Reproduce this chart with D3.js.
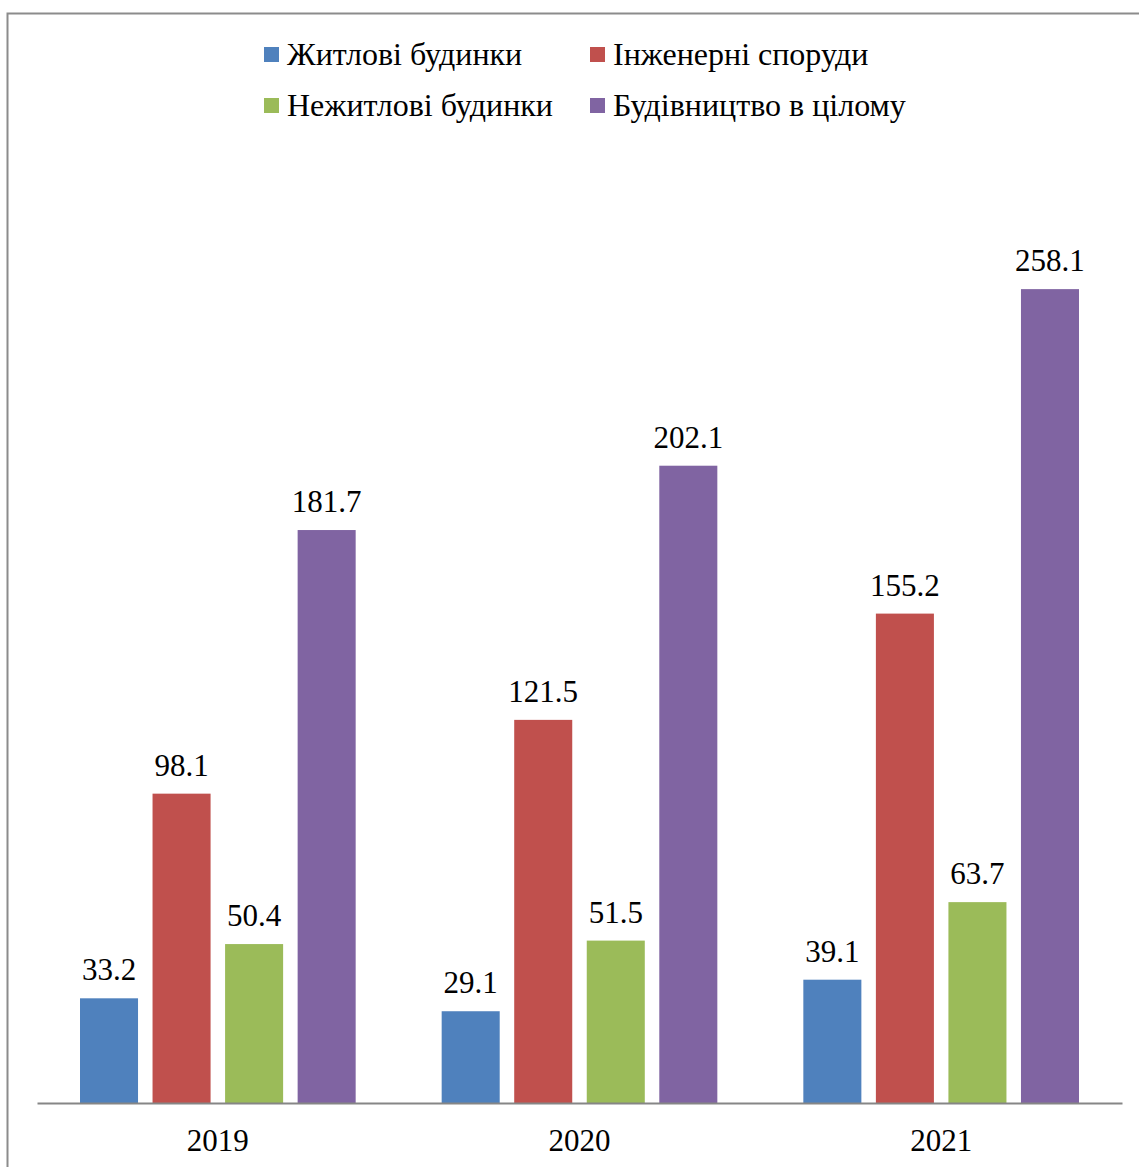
<!DOCTYPE html>
<meta charset="utf-8">
<script src="https://d3js.org/d3.v7.min.js"></script>
<style>
  body { margin: 0; background: #fff; }
  text { font-family: "Liberation Serif", "Times New Roman", serif; fill: #000; }
</style>
<div id="chart"></div>
<script>
// data
var years = ["2019", "2020", "2021"];
var seriesNames = ["Житлові будинки", "Інженерні споруди", "Нежитлові будинки", "Будівництво в цілому"];
var colors = ["#4F81BD", "#C0504D", "#9BBB59", "#8064A2"];
var residential = [33.2, 29.1, 39.1];
var engineering = [98.1, 121.5, 155.2];
var nonResidential = [50.4, 51.5, 63.7];
var total = [181.7, 202.1, 258.1];

var seriesValues = [residential, engineering, nonResidential, total];

var W = 1139, H = 1167;
var svg = d3.select("#chart").append("svg")
  .attr("width", W).attr("height", H);

// outer frame (only left and top edges fall inside the picture)
svg.append("rect")
  .attr("x", 7.5).attr("y", 13.5)
  .attr("width", 1300).attr("height", 1300)
  .attr("fill", "none").attr("stroke", "#8c8c8c").attr("stroke-width", 2);

var x0 = d3.scaleBand().domain(years).range([37, 1122]);
var x1 = d3.scaleBand().domain(d3.range(seriesNames.length))
  .range([43, x0.bandwidth() - 43]).paddingInner(0.2);
var y = d3.scaleLinear().domain([0, 300]).range([1103, 157]);

var groups = svg.selectAll("g.year")
  .data(years).enter().append("g")
  .attr("class", "year")
  .attr("transform", d => "translate(" + x0(d) + ",0)");

groups.each(function(year, yi) {
  var g = d3.select(this);
  seriesValues.forEach(function(vals, si) {
    var v = vals[yi];
    g.append("rect")
      .attr("x", x1(si))
      .attr("y", y(v))
      .attr("width", x1.bandwidth())
      .attr("height", y(0) - y(v))
      .attr("fill", colors[si]);
    g.append("text")
      .attr("x", x1(si) + x1.bandwidth() / 2)
      .attr("y", y(v) - 18)
      .attr("text-anchor", "middle")
      .style("font-size", "31px")
      .text(v.toFixed(1));
  });
});

// category axis
var axis = svg.append("g").attr("transform", "translate(0," + y(0) + ")")
  .call(d3.axisBottom(x0).tickSize(0).tickPadding(26));
axis.select(".domain").attr("stroke", "#868686").attr("stroke-width", 2);
axis.selectAll(".tick text")
  .style("font-size", "31px")
  .style("font-family", "'Liberation Serif', serif")
  .attr("fill", "#000");

// legend: 2 columns x 2 rows
var legendPos = [[264, 47], [590, 47], [264, 98], [590, 98]];
var legend = svg.selectAll("g.legend")
  .data(seriesNames).enter().append("g")
  .attr("class", "legend")
  .attr("transform", (d, i) => "translate(" + legendPos[i][0] + "," + legendPos[i][1] + ")");
legend.append("rect")
  .attr("width", 15).attr("height", 15)
  .attr("fill", (d, i) => colors[i]);
legend.append("text")
  .attr("x", 23).attr("y", 18)
  .style("font-size", "32px")
  .text(d => d);
</script>
